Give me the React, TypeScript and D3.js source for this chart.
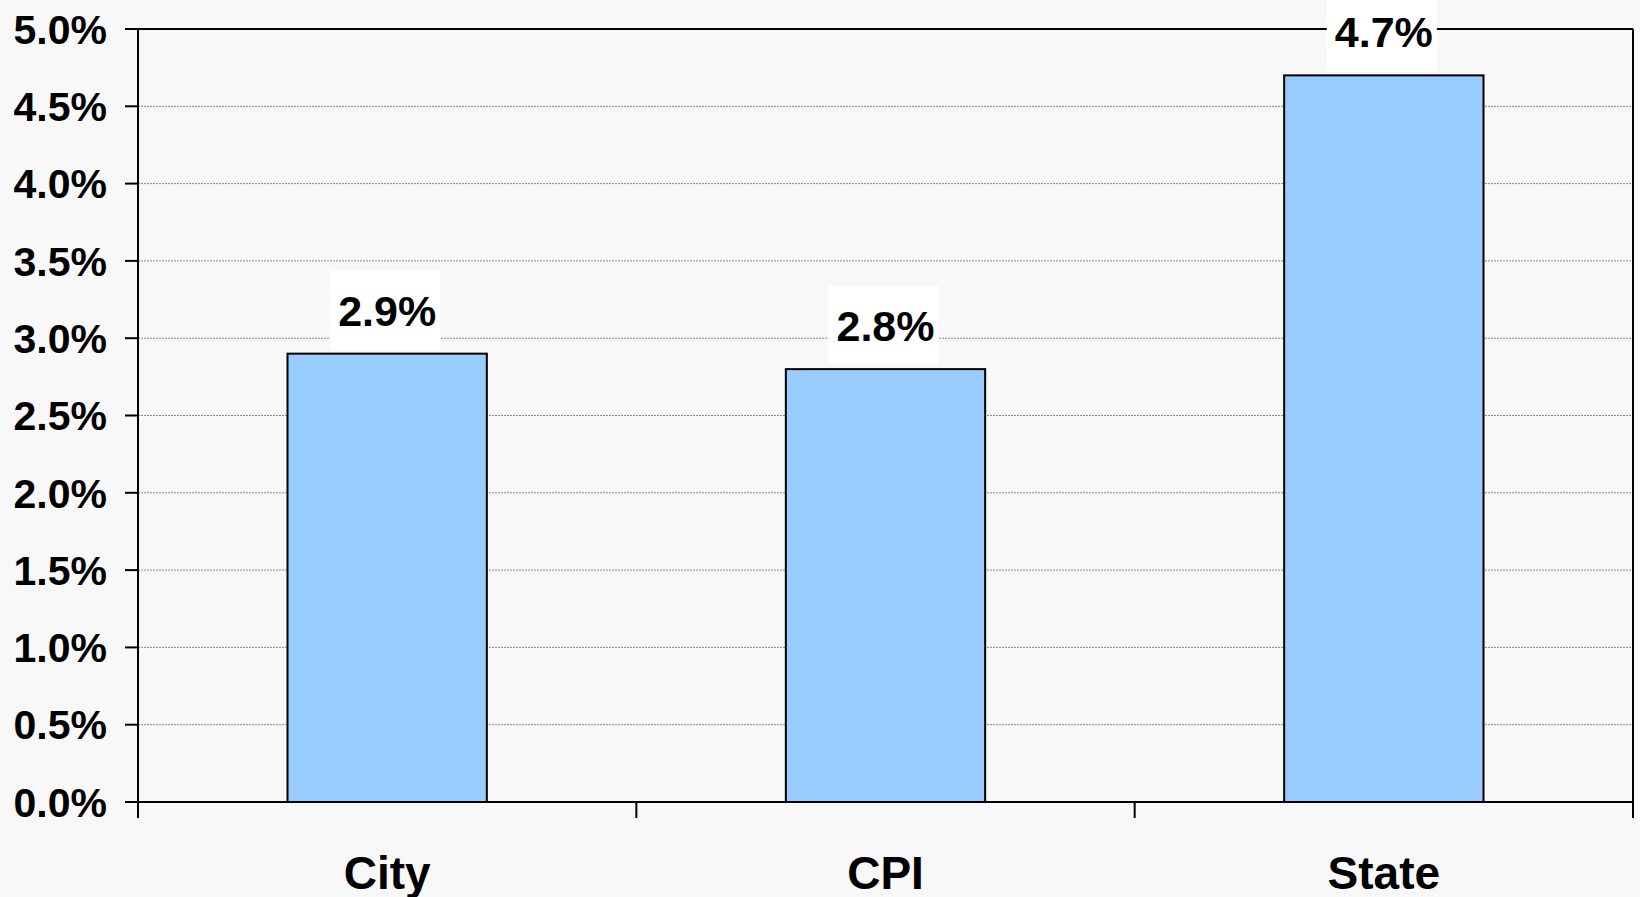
import { useMemo } from "react";
import * as d3 from "d3";

const categories = ["City", "CPI", "State"];
const values = [2.9, 2.8, 4.7];
const yTicks = [0, 0.5, 1, 1.5, 2, 2.5, 3, 3.5, 4, 4.5, 5];

const FONT = "'Liberation Sans', Arial, Helvetica, sans-serif";

const App = () => {
  const width = 1640;
  const height = 897;
  const margin = { top: 29, right: 7, bottom: 95, left: 138 };
  const innerWidth = width - margin.left - margin.right;
  const innerHeight = height - margin.top - margin.bottom;

  const xScale = useMemo(
    () => d3.scaleBand().domain(categories).range([0, innerWidth]).paddingInner(0).paddingOuter(0),
    [innerWidth]
  );
  const yScale = useMemo(
    () => d3.scaleLinear().domain([0, 5]).range([innerHeight, 0]),
    [innerHeight]
  );

  const barWidth = xScale.bandwidth() * 0.4;
  const fmt = (v: number) => `${v.toFixed(1)}%`;
  const boundaries = [...categories.map((c) => xScale(c) as number), innerWidth];

  return (
    <svg
      width={width}
      height={height}
      viewBox={`0 0 ${width} ${height}`}
      style={{ position: "absolute", left: 0, top: 0, background: "#f8f8f8" }}
    >
      <rect width={width} height={height} fill="#f8f8f8" />
      <g transform={`translate(${margin.left}, ${margin.top})`}>
        {yTicks.slice(1, -1).map((t) => (
          <line
            key={t}
            x1={0}
            x2={innerWidth}
            y1={yScale(t)}
            y2={yScale(t)}
            stroke="#8a8a8a"
            strokeWidth={1}
            strokeDasharray="2,1"
          />
        ))}
        {/* plot border top/right */}
        <line x1={0} x2={innerWidth} y1={0} y2={0} stroke="#000" strokeWidth={2} />
        <line x1={innerWidth} x2={innerWidth} y1={0} y2={innerHeight} stroke="#000" strokeWidth={2} />

        {categories.map((c, i) => {
          const cx = (xScale(c) as number) + xScale.bandwidth() / 2;
          const y = yScale(values[i]);
          return (
            <g key={c}>
              <rect
                x={cx - barWidth / 2}
                y={y}
                width={barWidth}
                height={innerHeight - y}
                fill="#99ccff"
                stroke="#000"
                strokeWidth={2}
              />
              <rect
                x={cx - 57}
                y={y - 83}
                width={110}
                height={79}
                fill="#ffffff"
              />
              <text
                x={cx}
                y={y - 28}
                textAnchor="middle"
                fontFamily={FONT}
                fontWeight="bold"
                fontSize={43}
                fill="#000"
              >
                {fmt(values[i])}
              </text>
              <text
                x={cx}
                y={innerHeight + 87}
                textAnchor="middle"
                fontFamily={FONT}
                fontWeight="bold"
                fontSize={46}
                fill="#000"
              >
                {c}
              </text>
            </g>
          );
        })}

        {/* y axis */}
        <line x1={0} x2={0} y1={0} y2={innerHeight + 16} stroke="#000" strokeWidth={2} />
        {yTicks.map((t) => (
          <g key={t} transform={`translate(0, ${yScale(t)})`}>
            <line x1={-13} x2={0} stroke="#000" strokeWidth={2} />
            <text
              x={-31}
              dy="0.36em"
              textAnchor="end"
              fontFamily={FONT}
              fontWeight="bold"
              fontSize={41}
              fill="#000"
            >
              {fmt(t)}
            </text>
          </g>
        ))}

        {/* x axis */}
        <line x1={0} x2={innerWidth} y1={innerHeight} y2={innerHeight} stroke="#000" strokeWidth={2} />
        {boundaries.map((b, i) => (
          <line key={i} x1={b} x2={b} y1={innerHeight} y2={innerHeight + 16} stroke="#000" strokeWidth={2} />
        ))}
      </g>
    </svg>
  );
};

export default App;
